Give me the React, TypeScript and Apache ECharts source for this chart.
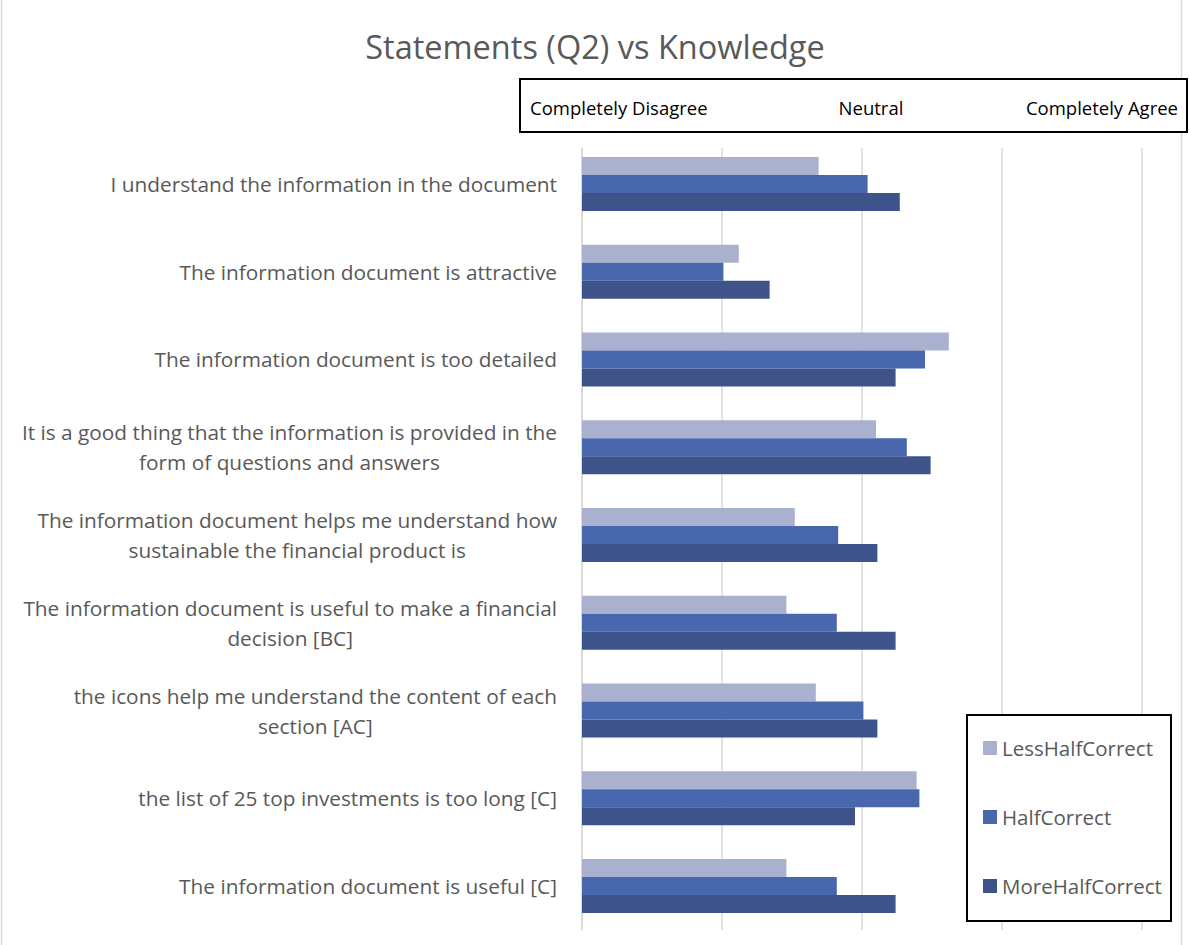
import React, { useEffect, useRef } from "react";
import * as echarts from "echarts";

const titleText = "Statements (Q2) vs Knowledge";
const scaleLabels = ["Completely Disagree", "Neutral", "Completely Agree"];
const categories = [
  "I understand the information in the document",
  "The information document is attractive",
  "The information document is too detailed",
  "It is a good thing that the information is provided in the\nform of questions and answers",
  "The information document helps me understand how\nsustainable the financial product is",
  "The information document is useful to make a financial\ndecision [BC]",
  "the icons help me understand the content of each\nsection [AC]",
  "the list of 25 top investments is too long [C]",
  "The information document is useful [C]",
];
const seriesNames = ["LessHalfCorrect", "HalfCorrect", "MoreHalfCorrect"];
const lessHalfCorrect = [2.69, 2.12, 3.62, 3.1, 2.52, 2.46, 2.67, 3.39, 2.46];
const halfCorrect = [3.04, 2.01, 3.45, 3.32, 2.83, 2.82, 3.01, 3.41, 2.82];
const moreHalfCorrect = [3.27, 2.34, 3.24, 3.49, 3.11, 3.24, 3.11, 2.95, 3.24];
const colors = ["#A9B1CE", "#4967AD", "#3D538A"];

const FONT = "'Open Sans', sans-serif";

export default function App() {
  const ref = useRef<HTMLDivElement>(null);
  useEffect(() => {
    if (!ref.current) return;
    const chart = echarts.init(ref.current, undefined, { renderer: "svg" });
    const values = [lessHalfCorrect, halfCorrect, moreHalfCorrect];
    chart.setOption({
      animation: false,
      backgroundColor: "#ffffff",
      textStyle: { fontFamily: FONT },
      title: {
        text: titleText,
        left: 590,
        textAlign: "center",
        top: 25,
        textStyle: { fontFamily: FONT, fontSize: 32.5, fontWeight: "normal", color: "#595959" },
      },
      legend: {
        orient: "vertical",
        left: 983,
        top: 737,
        padding: 0,
        z: 10,
        itemWidth: 14,
        itemHeight: 14,
        itemGap: 47,
        icon: "rect",
        textStyle: { fontFamily: FONT, fontSize: 20.5, lineHeight: 22, color: "#595959" },
        data: seriesNames,
      },
      grid: { left: 582, right: 47, top: 140, bottom: 15, containLabel: false },
      xAxis: {
        type: "value",
        min: 1,
        max: 5,
        interval: 1,
        axisLabel: { show: false },
        axisLine: { show: false },
        axisTick: { show: false },
        splitLine: { lineStyle: { color: "#D9D9D9", width: 1.5 } },
      },
      yAxis: {
        type: "category",
        inverse: true,
        data: categories,
        axisLine: { show: true, lineStyle: { color: "#D9D9D9", width: 1.5 } },
        axisTick: { show: false },
        axisLabel: {
          margin: 25,
          formatter: (v: string) => v.split("\n").map((l) => `{c|${l}}`).join("\n"),
          rich: {
            c: { fontFamily: FONT, fontSize: 20.8, lineHeight: 30, color: "#595959", align: "center" },
          },
        },
      },
      series: seriesNames.map((name, i) => ({
        name,
        type: "bar",
        data: values[i],
        barGap: "0%",
        barCategoryGap: "38.5%",
        itemStyle: { color: colors[i] },
      })),
      graphic: [
        {
          type: "rect",
          shape: { x: 1.5, y: -2, width: 1180, height: 960 },
          style: { fill: "none", stroke: "#D9D9D9", lineWidth: 1.5 },
          z: 0,
        },
        {
          type: "rect",
          shape: { x: 570, y: 133, width: 590, height: 15 },
          style: { fill: "#ffffff" },
          z: 1,
        },
        {
          type: "rect",
          shape: { x: 520, y: 79, width: 667, height: 53 },
          style: { fill: "#ffffff", stroke: "#000000", lineWidth: 2 },
          z: 100,
        },
        {
          type: "text",
          x: 530,
          y: 107,
          style: { text: scaleLabels[0], fontFamily: FONT, fontSize: 18.5, fill: "#000000", textAlign: "left", textVerticalAlign: "middle" },
          z: 101,
        },
        {
          type: "text",
          x: 871,
          y: 107,
          style: { text: scaleLabels[1], fontFamily: FONT, fontSize: 18.5, fill: "#000000", textAlign: "center", textVerticalAlign: "middle" },
          z: 101,
        },
        {
          type: "text",
          x: 1178,
          y: 107,
          style: { text: scaleLabels[2], fontFamily: FONT, fontSize: 18.5, fill: "#000000", textAlign: "right", textVerticalAlign: "middle" },
          z: 101,
        },
        {
          type: "rect",
          shape: { x: 967, y: 715, width: 204, height: 206 },
          style: { fill: "#ffffff", stroke: "#000000", lineWidth: 2 },
          z: 6,
        },
      ],
    });
    return () => chart.dispose();
  }, []);
  return (
    <div
      ref={ref}
      style={{ position: "absolute", left: 0, top: 0, width: 1189, height: 945 }}
    />
  );
}
